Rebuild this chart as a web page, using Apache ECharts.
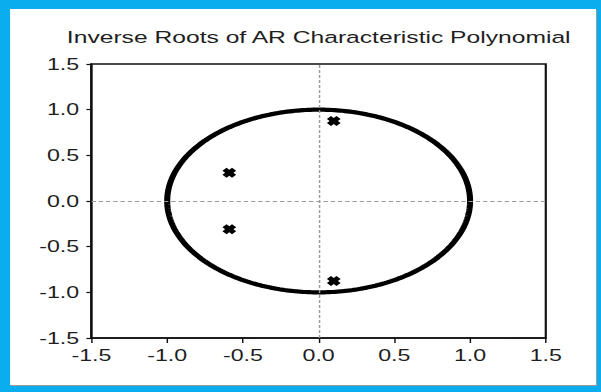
<!DOCTYPE html>
<html>
<head>
<meta charset="utf-8">
<script src="https://cdn.jsdelivr.net/npm/echarts@6/dist/echarts.min.js"></script>
<style>
  html, body { margin: 0; padding: 0; }
  #frame { position: absolute; left: 0; top: 0; width: 601px; height: 392px; background: #0AAEEF; }
  #panel { position: absolute; left: 10px; top: 9px; width: 586px; height: 376px; background: #ffffff;
           box-shadow: 1px 1px 0 #9a9a9a; overflow: hidden; }
  #chart { position: absolute; left: 0; top: 0; width: 404.1px; height: 376px;
           transform: scaleX(1.45); transform-origin: 0 0; }
</style>
</head>
<body>
<div id="frame"><div id="panel"><div id="chart"></div></div></div>
<script>
// ---- data ----
var chartTitle = 'Inverse Roots of AR Characteristic Polynomial';
var rootsReal = [0.10, 0.10, -0.59, -0.59];
var rootsImag = [0.875, -0.875, 0.31, -0.31];
var axisMin = -1.5;
var axisMax = 1.5;
var tickStep = 0.5;
var unitRadius = 1.0;

// unit circle reference curve (geometric definition, not data)
var circleSteps = 360;
var unitCircle = [];
for (var i = 0; i <= circleSteps; i++) {
  var a = (i / circleSteps) * 2 * Math.PI;
  unitCircle.push([unitRadius * Math.cos(a), unitRadius * Math.sin(a)]);
}
var rootPoints = rootsReal.map(function (re, k) { return [re, rootsImag[k]]; });

var textColor = '#1e1e1e';
var fontFam = '"Liberation Sans", Arial, sans-serif';
var xMark = 'path://M0,3 L3,0 L5,2 L7,0 L10,3 L8,5 L10,7 L7,10 L5,8 L3,10 L0,7 L2,5 Z';

var chart = echarts.init(document.getElementById('chart'), null, { renderer: 'svg' });
chart.setOption({
  animation: false,
  backgroundColor: '#ffffff',
  title: {
    text: chartTitle,
    left: 34.2,
    top: 14,
    textStyle: { color: textColor, fontSize: 17, fontWeight: 'normal', fontFamily: fontFam }
  },
  grid: {
    left: 56.2, right: 34.5, top: 55, bottom: 47,
    show: true, borderColor: '#111', borderWidth: 1.5, backgroundColor: 'transparent'
  },
  xAxis: {
    type: 'value', min: axisMin, max: axisMax, interval: tickStep,
    axisLine: { onZero: false, lineStyle: { color: '#111', width: 1.5 } },
    axisTick: { show: true, inside: false, length: 5, lineStyle: { color: '#111', width: 1 } },
    splitLine: { show: false },
    axisLabel: { margin: 9, color: textColor, fontSize: 16, fontFamily: fontFam,
      formatter: function (v) { return v.toFixed(1); } }
  },
  yAxis: {
    type: 'value', min: axisMin, max: axisMax, interval: tickStep,
    axisLine: { onZero: false, lineStyle: { color: '#111', width: 1.5 } },
    axisTick: { show: true, inside: false, length: 3.5, lineStyle: { color: '#111', width: 1.2 } },
    splitLine: { show: false },
    axisLabel: { margin: 8.5, color: textColor, fontSize: 16, fontFamily: fontFam,
      formatter: function (v) { return v.toFixed(1); } }
  },
  series: [
    {
      type: 'line',
      data: unitCircle,
      showSymbol: false,
      symbol: 'none',
      smooth: false,
      lineStyle: { color: '#000', width: 4.2 },
      silent: true,
      markLine: {
        silent: true,
        symbol: ['none', 'none'],
        label: { show: false },
        lineStyle: { color: '#9a9a9a', type: [3, 2], width: 1 },
        data: [{ xAxis: 0 }, { yAxis: 0 }]
      },
      z: 2
    },
    {
      type: 'scatter',
      data: rootPoints,
      symbol: xMark,
      symbolSize: [9.5, 10],
      itemStyle: { color: '#000', opacity: 1 },
      z: 3
    }
  ]
});
</script>
</body>
</html>
